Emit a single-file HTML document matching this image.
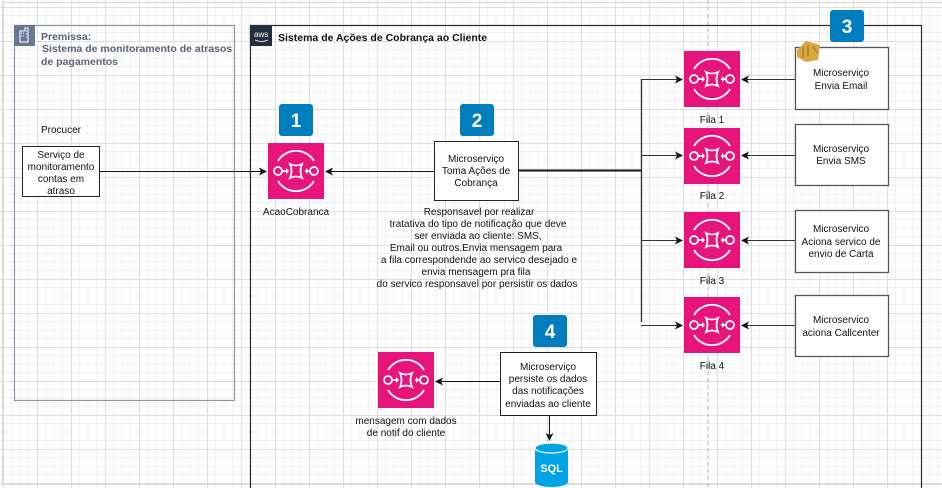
<!DOCTYPE html>
<html><head><meta charset="utf-8"><style>
html,body{margin:0;padding:0;background:#fff}
svg{display:block}
text{font-family:"Liberation Sans",Arial,sans-serif;font-size:10px;fill:#111}
</style></head><body>
<svg width="942" height="488" viewBox="0 0 942 488" xmlns="http://www.w3.org/2000/svg">
<defs>
<pattern id="G" width="34" height="34" patternUnits="userSpaceOnUse" x="3" y="7">
<path d="M8.5 0V34M17 0V34M25.5 0V34M0 8.5H34M0 17H34M0 25.5H34" fill="none" stroke="#f0f0f0" stroke-width="1"/>
<path d="M0.5 0V34M0 0.5H34" fill="none" stroke="#dedede" stroke-width="1"/></pattern>
<marker id="a" markerWidth="8" markerHeight="8" refX="7" refY="4" orient="auto" markerUnits="userSpaceOnUse"><path d="M0 0L8 4L0 8L2 4Z" fill="#111"/></marker>
<symbol id="sqs" viewBox="0 0 56 56">
<rect width="56" height="56" fill="#E7157B"/>
<path d="M10 18A21 21 0 0 1 46 18M10 38A21 21 0 0 0 46 38" fill="none" stroke="#fff" stroke-width="1.8"/>
<circle cx="10" cy="28" r="4" fill="none" stroke="#fff" stroke-width="1.8"/>
<circle cx="46" cy="28" r="4" fill="none" stroke="#fff" stroke-width="1.8"/>
<path d="M14 28H19M37 28H42" stroke="#fff" stroke-width="1.8"/>
<path d="M18 25L21 28L18 31ZM38 25L41 28L38 31Z" fill="#fff"/>
<path d="M22 21Q28 24 34 21Q31 28 34 35Q28 32 22 35Q25 28 22 21Z" fill="none" stroke="#fff" stroke-width="1.8"/>
</symbol>
</defs>
<rect width="942" height="488" fill="url(#G)"/>
<rect x="2.5" y="2.5" width="945" height="482" fill="none" stroke="#d8d8d8"/>
<line x1="708" y1="0" x2="708" y2="488" stroke="#bbb" stroke-dasharray="4 3"/>

<!-- Premissa -->
<rect x="14.5" y="25.5" width="220" height="375" fill="none" stroke="#8c96a8" stroke-width="1.2"/>
<rect x="14" y="25" width="21" height="21" fill="#6b7894"/>
<path d="M20 42V31H25V28H28V42ZM21 33h1M23 33h1M21 36h1M23 36h1M26 31h1M26 34h1M26 37h1" stroke="#fff" stroke-width="1" fill="none"/>
<text x="41" y="40" style="font-weight:bold;fill:#5a6477;font-size:10.5px">Premissa:</text>
<text x="42" y="52" style="font-weight:bold;fill:#5a6477;font-size:10.5px">Sistema de monitoramento de atrasos</text>
<text x="41" y="65" style="font-weight:bold;fill:#5a6477;font-size:10.5px">de pagamentos</text>

<!-- AWS -->
<rect x="250.5" y="25.5" width="671" height="470" fill="none" stroke="#232f3e" stroke-width="1.2"/>
<rect x="250" y="25" width="22" height="21" fill="#232f3e"/>
<text x="254" y="37" style="fill:#fff;font-size:8px">aws</text>
<path d="M255 40Q261 43 268 40" stroke="#fff" fill="none" stroke-width="0.8"/>
<text x="278" y="41" style="font-weight:bold;font-size:10.5px">Sistema de Ações de Cobrança ao Cliente</text>

<!-- badges -->
<rect x="279" y="104" width="34" height="32" rx="3" fill="#007dbc"/><text x="296" y="127" text-anchor="middle" style="fill:#fff;font-size:19px;font-weight:bold">1</text>
<rect x="460" y="104" width="34" height="32" rx="3" fill="#007dbc"/><text x="477" y="127" text-anchor="middle" style="fill:#fff;font-size:19px;font-weight:bold">2</text>
<rect x="830" y="10" width="34" height="32" rx="3" fill="#007dbc"/><text x="847" y="33" text-anchor="middle" style="fill:#fff;font-size:19px;font-weight:bold">3</text>
<rect x="533" y="315" width="34" height="32" rx="3" fill="#007dbc"/><text x="550" y="338" text-anchor="middle" style="fill:#fff;font-size:19px;font-weight:bold">4</text>

<!-- Producer -->
<text x="41" y="133">Procucer</text>
<rect x="22.5" y="146.5" width="77" height="50" fill="#fff" stroke="#222"/>
<text x="61" y="158" text-anchor="middle">Serviço de</text>
<text x="61" y="170" text-anchor="middle">monitoramento</text>
<text x="61" y="182" text-anchor="middle">contas em</text>
<text x="61" y="194" text-anchor="middle">atraso</text>
<line x1="100" y1="171.5" x2="266" y2="171.5" stroke="#111" marker-end="url(#a)"/>

<use href="#sqs" x="268" y="143" width="56" height="56"/>
<text x="296" y="215" text-anchor="middle">AcaoCobranca</text>

<!-- Toma -->
<rect x="434.5" y="141.5" width="84" height="59" fill="#fff" stroke="#222"/>
<text x="476" y="162" text-anchor="middle">Microserviço</text>
<text x="476" y="174" text-anchor="middle">Toma Ações de</text>
<text x="476" y="186" text-anchor="middle">Cobrança</text>
<line x1="434" y1="171.5" x2="326" y2="171.5" stroke="#111" marker-end="url(#a)"/>
<g text-anchor="middle">
<text x="479" y="215">Responsavel por realizar</text>
<text x="478" y="227">tratativa do tipo de notificação que deve</text>
<text x="478" y="239">ser enviada ao cliente: SMS,</text>
<text x="476" y="251">Email ou outros.Envia mensagem para</text>
<text x="479" y="263">a fila correspondende ao servico desejado e</text>
<text x="476" y="275">envia mensagem pra fila</text>
<text x="477" y="287">do servico responsavel por persistir os dados</text>
</g>

<!-- connectors to filas -->
<path d="M518 170.5H641.5" stroke="#111" stroke-width="2" fill="none"/>
<path d="M641.5 79V322" stroke="#333" stroke-width="1.3" fill="none"/>
<g stroke="#333" stroke-width="1.1" marker-end="url(#a)">
<line x1="641" y1="79.5" x2="682" y2="79.5"/>
<line x1="641" y1="155.5" x2="682" y2="155.5"/>
<line x1="641" y1="240.5" x2="682" y2="240.5"/>
<line x1="641" y1="325.5" x2="682" y2="325.5"/>
<line x1="795" y1="79.5" x2="742" y2="79.5"/>
<line x1="795" y1="155.5" x2="742" y2="155.5"/>
<line x1="795" y1="240.5" x2="742" y2="240.5"/>
<line x1="795" y1="325.5" x2="742" y2="325.5"/>
</g>

<use href="#sqs" x="684" y="51" width="56" height="56"/>
<use href="#sqs" x="684" y="128" width="56" height="56"/>
<use href="#sqs" x="684" y="212" width="56" height="56"/>
<use href="#sqs" x="684" y="297" width="56" height="56"/>
<g text-anchor="middle">
<text x="712" y="123">Fila 1</text>
<text x="712" y="199">Fila 2</text>
<text x="712" y="284">Fila 3</text>
<text x="712" y="369">Fila 4</text>
</g>

<g fill="#fff" stroke="#555" stroke-width="1.3">
<rect x="795.5" y="47.5" width="93" height="62"/>
<rect x="795.5" y="124.5" width="93" height="61"/>
<rect x="795.5" y="210.5" width="93" height="62"/>
<rect x="795.5" y="295.5" width="93" height="61"/>
</g>
<path d="M797 50L806 41L820 45L818 60L806 62L797 57Z" fill="#d9a741"/>
<path d="M803 47V58M808 45V56M813 46L817 53" stroke="#b07f22" stroke-width="1.5"/>
<g text-anchor="middle">
<text x="841" y="76">Microserviço</text>
<text x="841" y="89">Envia Email</text>
<text x="841" y="152">Microserviço</text>
<text x="841" y="164">Envia SMS</text>
<text x="841" y="232">Microservico</text>
<text x="841" y="245">Aciona servico de</text>
<text x="841" y="257">envio de Carta</text>
<text x="841" y="323">Microservico</text>
<text x="841" y="336">aciona Callcenter</text>
</g>

<!-- bottom -->
<use href="#sqs" x="378" y="352" width="56" height="56"/>
<text x="406" y="424" text-anchor="middle">mensagem com dados</text>
<text x="406" y="436" text-anchor="middle">de notif do cliente</text>
<rect x="500.5" y="352.5" width="96" height="63" fill="#fff" stroke="#222"/>
<g text-anchor="middle">
<text x="548" y="370">Microserviço</text>
<text x="548" y="382">persiste os dados</text>
<text x="548" y="394">das notificações</text>
<text x="548" y="407">enviadas ao cliente</text>
</g>
<line x1="500" y1="381.5" x2="436" y2="381.5" stroke="#111" marker-end="url(#a)"/>
<line x1="549.5" y1="416" x2="549.5" y2="440" stroke="#111" marker-end="url(#a)"/>
<path d="M535 448V482A16.5 5 0 0 0 568 482V448Z" fill="#00a4e4"/>
<ellipse cx="551.5" cy="448" rx="16.5" ry="5" fill="#00a4e4" stroke="#fff" stroke-width="1.2"/>
<text x="551.5" y="472" text-anchor="middle" style="fill:#fff;font-weight:bold;font-size:11px">SQL</text>
</svg>
</body></html>
